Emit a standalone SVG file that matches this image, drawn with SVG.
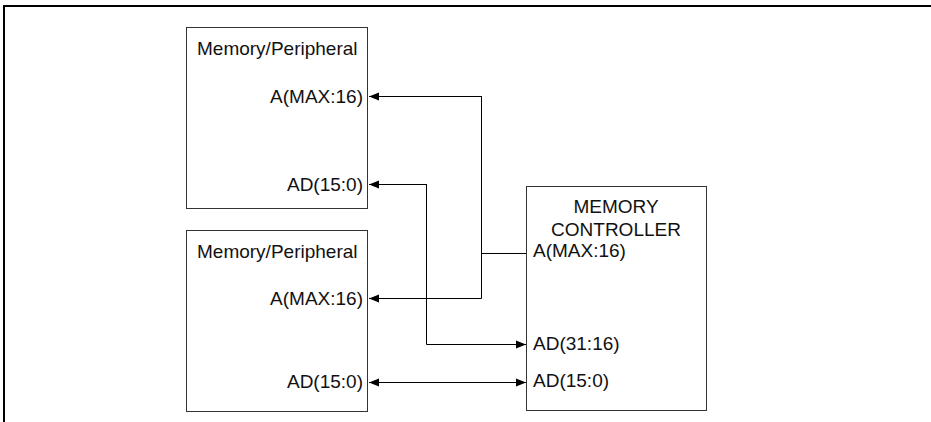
<svg xmlns="http://www.w3.org/2000/svg" width="931" height="422" viewBox="0 0 931 422">
<style>
.box{fill:#fff;stroke:#333;stroke-width:1}
.t{font-family:"Liberation Sans",Arial,sans-serif;font-size:19px;fill:#111}
.e{text-anchor:end}
.m{text-anchor:middle}
.c{fill:none;stroke:#000;stroke-width:1}
.frame{fill:none;stroke:#000;stroke-width:2}
</style>
<defs>
<marker id="ah" viewBox="0 0 10 10" refX="10" refY="5" markerWidth="10" markerHeight="10" markerUnits="userSpaceOnUse" orient="auto-start-reverse">
<path d="M0,1 L10,5 L0,9 Z" fill="#000"/>
</marker>
</defs>
<rect width="931" height="422" fill="#fff"/>
<path class="frame" d="M4,422 V6 H931"/>
<g id="mem1">
<rect class="box" x="186.5" y="27.5" width="181" height="181"/>
<text class="t" x="197" y="55">Memory/Peripheral</text>
<text class="t e" x="363" y="103">A(MAX:16)</text>
<text class="t e" x="363" y="191">AD(15:0)</text>
</g>
<g id="mem2">
<rect class="box" x="186.5" y="230.5" width="181" height="181"/>
<text class="t" x="197" y="258">Memory/Peripheral</text>
<text class="t e" x="363" y="305">A(MAX:16)</text>
<text class="t e" x="363" y="388">AD(15:0)</text>
</g>
<g id="ctrl">
<rect class="box" x="526.5" y="186.5" width="180" height="224"/>
<text class="t m" x="616" y="213">MEMORY</text>
<text class="t m" x="616" y="236">CONTROLLER</text>
<text class="t" x="533" y="257">A(MAX:16)</text>
<text class="t" x="533" y="350">AD(31:16)</text>
<text class="t" x="533" y="387">AD(15:0)</text>
</g>
<g id="connectors">
<path class="c" d="M481.5,96.5 H369" marker-end="url(#ah)"/>
<path class="c" d="M481.5,96 V298.5 H369" marker-end="url(#ah)"/>
<path class="c" d="M481.5,253.5 H526"/>
<path class="c" d="M426.5,184.5 H369" marker-end="url(#ah)"/>
<path class="c" d="M426.5,184 V344.5 H526" marker-end="url(#ah)"/>
<path class="c" d="M369,382.5 H526" marker-start="url(#ah)" marker-end="url(#ah)"/>
</g>
</svg>
